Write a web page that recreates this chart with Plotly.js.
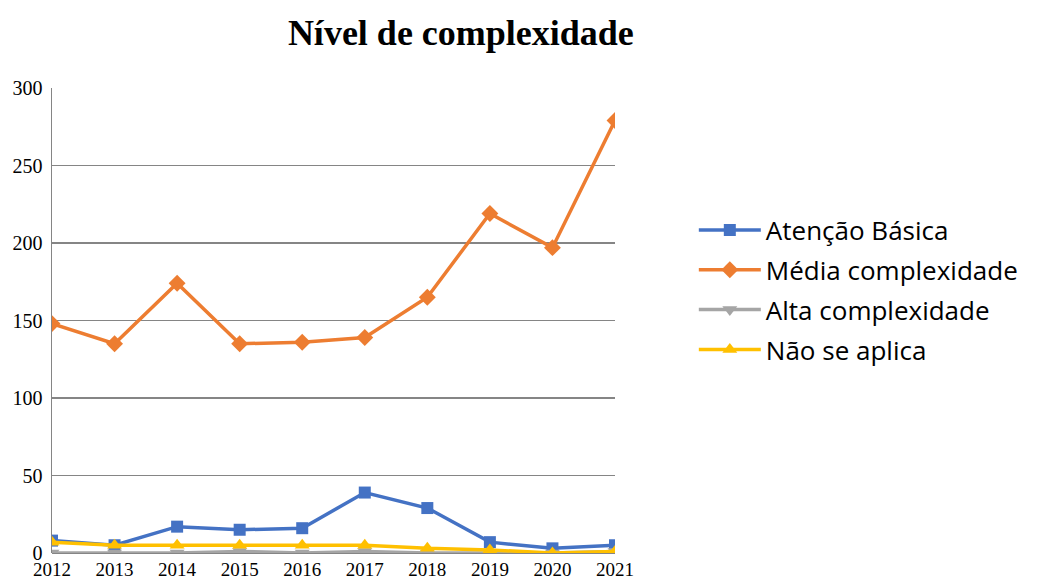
<!DOCTYPE html>
<html><head><meta charset="utf-8">
<script src="https://cdn.plot.ly/plotly-3.0.1.min.js"></script>
<style>body{margin:0;background:#fff}#chart{width:1038px;height:581px}</style>
</head><body><div id="chart"></div>
<script>
const years = ['2012','2013','2014','2015','2016','2017','2018','2019','2020','2021'];
const atencaoBasica = [8, 5, 17, 15, 16, 39, 29, 7, 3, 5];
const mediaComplexidade = [148, 135, 174, 135, 136, 139, 165, 219, 197, 279];
const altaComplexidade = [0, 0, 0, 1, 0, 1, 0, 0, 0, 1];
const naoSeAplica = [7, 5, 5, 5, 5, 5, 3, 2, 0, 1];
const seriesNames = ['Atenção Básica', 'Média complexidade', 'Alta complexidade', 'Não se aplica'];

const mk = (y, name, color, symbol, g, size) => ({
  x: years, y: y, name: name, type: 'scatter', mode: 'lines+markers',
  legendgroup: g,
  line: {color: color, width: 3.5},
  marker: {color: color, symbol: symbol, size: size}
});
const data = [
  mk(atencaoBasica, seriesNames[0], '#4472C4', 'square', 'a', 12),
  mk(mediaComplexidade, seriesNames[1], '#ED7D31', 'diamond', 'b', 13),
  mk(altaComplexidade, seriesNames[2], '#A5A5A5', 'triangle-down', 'c', 13),
  mk(naoSeAplica, seriesNames[3], '#FFC000', 'triangle-up', 'd', 13)
];
const layout = {
  width: 1038, height: 581,
  margin: {l: 52, r: 423, t: 88, b: 28},
  paper_bgcolor: '#fff', plot_bgcolor: '#fff',
  title: {text: '<b>Nível de complexidade</b>', x: 0.444, xanchor: 'center', y: 0.945, yanchor: 'middle',
          font: {family: 'Liberation Serif, Times New Roman, serif', size: 36, color: '#000'}},
  xaxis: {type: 'category', range: [0, 9], showgrid: false, zeroline: false, showline: false,
          ticks: '', tickfont: {family: 'Liberation Serif, serif', size: 19, color: '#000'},
          ticklabelstandoff: 3, fixedrange: true},
  yaxis: {range: [0, 300], dtick: 50, showgrid: true, gridcolor: '#858585', gridwidth: 1.5,
          zeroline: true, zerolinecolor: '#858585', zerolinewidth: 1.5,
          showline: true, linecolor: '#858585', linewidth: 1.5, ticks: '',
          tickfont: {family: 'Liberation Serif, serif', size: 20, color: '#000'}, ticklabelstandoff: 4},
  showlegend: true,
  legend: {x: 1.14, y: 0.745, xanchor: 'left', yanchor: 'top', traceorder: 'grouped', tracegroupgap: 3,
           itemwidth: 62, font: {family: 'Open Sans, sans-serif', size: 26, color: '#000'},
           bgcolor: 'rgba(0,0,0,0)'}
};
Plotly.newPlot('chart', data, layout, {displayModeBar: false, staticPlot: true});
</script></body></html>
